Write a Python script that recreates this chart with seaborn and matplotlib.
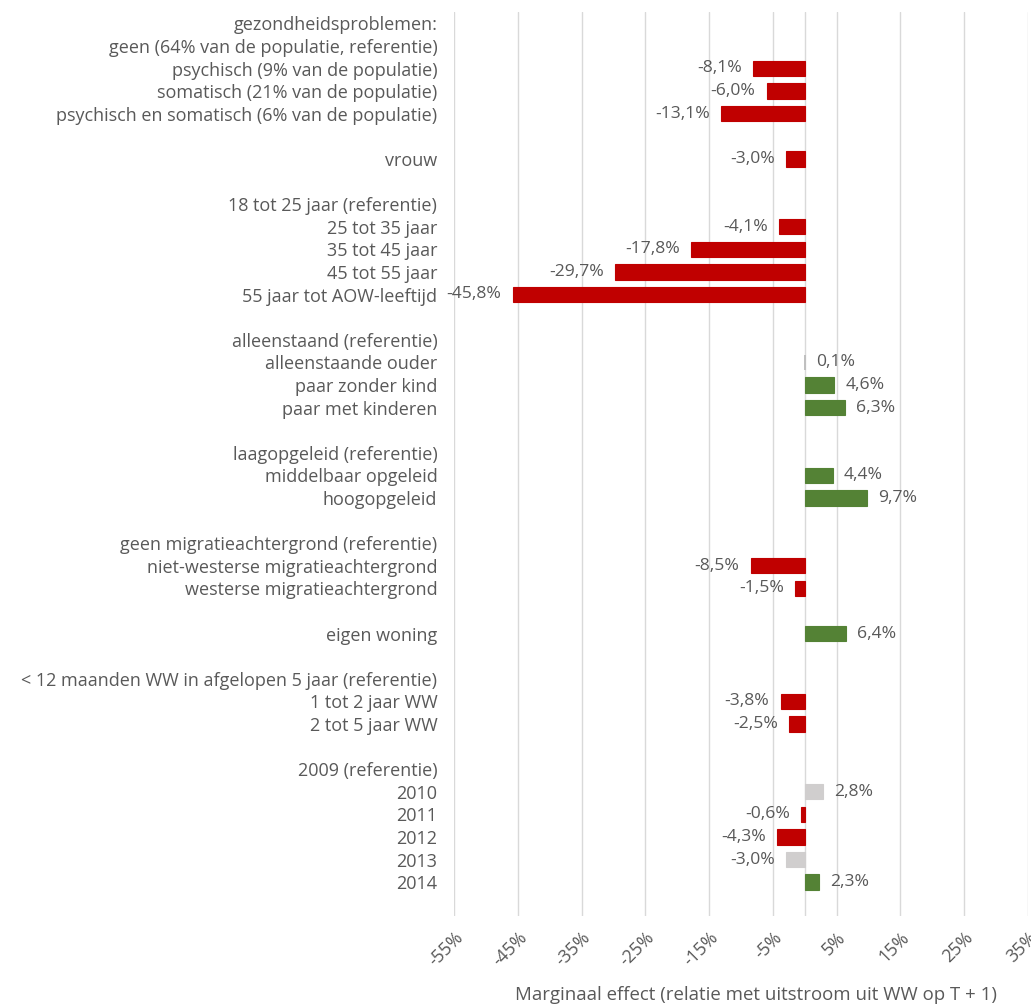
import numpy as np
import pandas as pd
import matplotlib
matplotlib.use("Agg")
import matplotlib.pyplot as plt
import seaborn as sns

# ---- data ----
categories = [
    "gezondheidsproblemen:",
    "geen (64% van de populatie, referentie)",
    "psychisch (9% van de populatie)",
    "somatisch (21% van de populatie)",
    "psychisch en somatisch (6% van de populatie)",
    "",
    "vrouw",
    "",
    "18 tot 25 jaar (referentie)",
    "25 tot 35 jaar",
    "35 tot 45 jaar",
    "45 tot 55 jaar",
    "55 jaar tot AOW-leeftijd",
    "",
    "alleenstaand (referentie)",
    "alleenstaande ouder",
    "paar zonder kind",
    "paar met kinderen",
    "",
    "laagopgeleid (referentie)",
    "middelbaar opgeleid",
    "hoogopgeleid",
    "",
    "geen migratieachtergrond (referentie)",
    "niet-westerse migratieachtergrond",
    "westerse migratieachtergrond",
    "",
    "eigen woning",
    "",
    "< 12 maanden WW in afgelopen 5 jaar (referentie)",
    "1 tot 2 jaar WW",
    "2 tot 5 jaar WW",
    "",
    "2009 (referentie)",
    "2010",
    "2011",
    "2012",
    "2013",
    "2014",
    "",
]
values = [
    None, None, -8.1, -6.0, -13.1, None,
    -3.0, None,
    None, -4.1, -17.8, -29.7, -45.8, None,
    None, 0.1, 4.6, 6.3, None,
    None, 4.4, 9.7, None,
    None, -8.5, -1.5, None,
    6.4, None,
    None, -3.8, -2.5, None,
    None, 2.8, -0.6, -4.3, -3.0, 2.3, None,
]
# n = not significant (grey), s = significant
significance = [
    None, None, "s", "s", "s", None,
    "s", None,
    None, "s", "s", "s", "s", None,
    None, "n", "s", "s", None,
    None, "s", "s", None,
    None, "s", "s", None,
    "s", None,
    None, "s", "s", None,
    None, "n", "s", "s", "n", "s", None,
]
x_ticks = [-55, -45, -35, -25, -15, -5, 5, 15, 25, 35]
x_title = "Marginaal effect (relatie met uitstroom uit WW op T + 1)"

# ---- build table ----
keys = [f"{i:02d}|{c}" for i, c in enumerate(categories)]
rows = []
for k, v, s in zip(keys, values, significance):
    if v is None:
        continue
    if s == "n":
        cls = "ns"
    else:
        cls = "neg" if v < 0 else "pos"
    rows.append({"key": k, "value": v, "cls": cls})
df = pd.DataFrame(rows)

palette = {"neg": "#C00000", "pos": "#548235", "ns": "#D0CECE"}
text_color = "#595959"
grid_color = "#D9D9D9"

sns.set_theme(style="white")
plt.rcParams["font.family"] = ["Open Sans", "DejaVu Sans"]

W, H = 1031, 1005
fig = plt.figure(figsize=(W / 100, H / 100), dpi=100)
ax_left, ax_right = 454 / W, 1028 / W
ax_top, ax_bottom = 1 - 12 / H, 1 - 916 / H
ax = fig.add_axes([ax_left, ax_bottom, ax_right - ax_left, ax_top - ax_bottom])

sns.barplot(data=df, y="key", x="value", hue="cls", palette=palette,
            order=keys, dodge=False, orient="h", width=0.68,
            legend=False, ax=ax, errorbar=None, saturation=1)
for p in ax.patches:
    fc = p.get_facecolor()
    p.set_edgecolor("#BFBFBF" if abs(p.get_width()) < 0.5 else fc)
    p.set_linewidth(0.8 if abs(p.get_width()) >= 0.5 else 1.4)
    p.set_zorder(3)

ax.set_xlim(-55, 35)
ax.set_ylim(len(keys) - 0.5, -0.5)
ax.set_xticks(x_ticks)
ax.set_xticklabels([f"{t}%" for t in x_ticks], rotation=45, ha="right",
                   rotation_mode="anchor", color=text_color, fontsize=12.8)
ax.set_yticks(range(len(keys)))
ax.set_yticklabels(categories, color=text_color, fontsize=13)
ax.tick_params(axis="y", length=0, pad=12)
ax.tick_params(axis="x", length=0, pad=9)
ax.set_xlabel("")
ax.set_ylabel("")

for sp in ax.spines.values():
    sp.set_visible(False)
ax.xaxis.grid(True, color=grid_color, linewidth=1)
ax.set_axisbelow(True)
ax.axvline(0, color=grid_color, linewidth=1, zorder=0.5)

# value labels
for i, v in enumerate(values):
    if v is None:
        continue
    lab = f"{v:.1f}".replace(".", ",") + "%"
    if v < 0:
        ax.annotate(lab, (v, i), xytext=(-8, 0), textcoords="offset points",
                    ha="right", va="center", color=text_color, fontsize=12.6)
    else:
        ax.annotate(lab, (v, i), xytext=(8, 0), textcoords="offset points",
                    ha="left", va="center", color=text_color, fontsize=12.6)

fig.text(756 / W, 1 - 995 / H, x_title, ha="center", va="center",
         color=text_color, fontsize=13.4)

fig.savefig("out.png", dpi=100)
